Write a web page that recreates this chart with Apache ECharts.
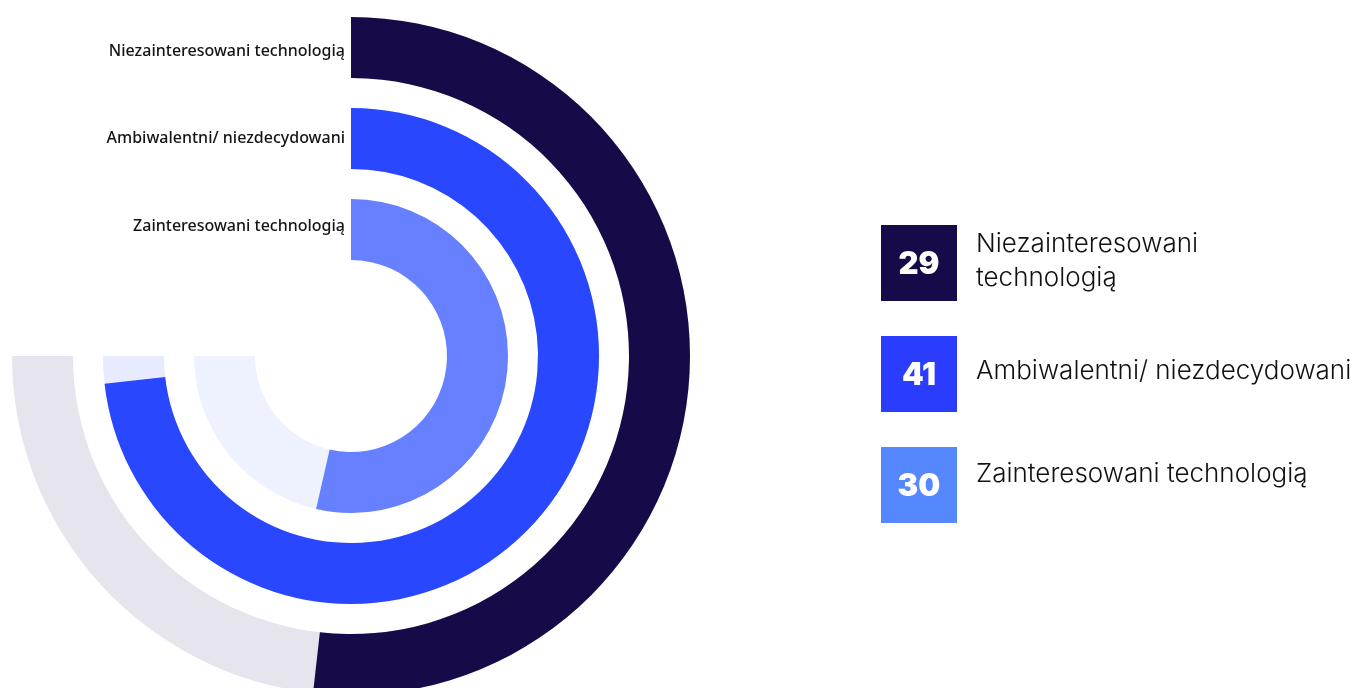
<!DOCTYPE html>
<html>
<head>
<meta charset="utf-8">
<script src="https://cdn.jsdelivr.net/npm/echarts@6/dist/echarts.min.js"></script>
<style>
  html, body { margin: 0; padding: 0; background: #ffffff; }
  #chart { width: 1357px; height: 688px; }
</style>
</head>
<body>
<div id="chart"></div>
<script>
// Groups, listed from the inner ring outwards
const categories = ['Zainteresowani technologią', 'Ambiwalentni/ niezdecydowani', 'Niezainteresowani technologią'];
const values = [30, 41, 29];
// Full track length of each ring (three quarters of the circle)
const trackMax = 42;

// Legend rows, top to bottom
const legendLabels = ['Niezainteresowani\ntechnologią', 'Ambiwalentni/ niezdecydowani', 'Zainteresowani technologią'];
const legendValues = [29, 41, 30];

const barColors = ['#6680ff', '#2847ff', '#170a48'];
const trackColors = ['#eef2ff', '#e8ebff', '#e6e5ed'];
const legendColors = ['#170a48', '#2a3dff', '#5588ff'];

const chart = echarts.init(document.getElementById('chart'), null, { renderer: 'canvas' });

// Legend: value tile + caption for each group
const legendTop = [225, 336, 447];
const legendTextY = [261, 371, 474];
const graphic = [];
legendValues.forEach((v, i) => {
  graphic.push({
    type: 'rect',
    left: 881, top: legendTop[i],
    shape: { width: 76, height: 76 },
    style: { fill: legendColors[i] }
  });
  graphic.push({
    type: 'text',
    x: 919, y: legendTop[i] + 40,
    style: {
      text: String(v),
      fill: '#ffffff',
      font: '900 31px Inter',
      align: 'center',
      verticalAlign: 'middle'
    }
  });
  graphic.push({
    type: 'text',
    x: 976, y: legendTextY[i],
    style: {
      text: legendLabels[i],
      fill: '#111111',
      font: '300 26px Inter',
      lineHeight: 34,
      align: 'left',
      verticalAlign: 'middle'
    }
  });
});

// Two identical polar grids: one carries the tracks, the other the values,
// so each ring gets the full bar width on its own band.
const polarBox = { center: [351, 356], radius: [81, 354] };
const angleAxisBase = {
  type: 'value',
  min: 0,
  max: trackMax * 360 / 270,
  startAngle: 90,
  clockwise: true,
  show: false
};

// Ring captions sit slightly closer together than the rings themselves
const labelShift = ['inner', 'mid', 'outer'];
const labelFont = { color: '#141414', fontFamily: 'Noto Sans', fontWeight: 500, fontSize: 16 };

chart.setOption({
  backgroundColor: '#ffffff',
  animation: false,
  polar: [polarBox, polarBox],
  angleAxis: [
    Object.assign({ polarIndex: 0 }, angleAxisBase),
    Object.assign({ polarIndex: 1 }, angleAxisBase)
  ],
  radiusAxis: [
    {
      polarIndex: 0,
      type: 'category',
      data: categories,
      show: false
    },
    {
      polarIndex: 1,
      type: 'category',
      data: categories,
      axisLine: { show: false },
      axisTick: { show: false },
      splitLine: { show: false },
      axisLabel: {
        interval: 0,
        margin: 6,
        formatter: (val, idx) => '{' + labelShift[idx] + '|' + val + '}',
        rich: {
          inner: Object.assign({ padding: [0, 0, 7, 0] }, labelFont),
          mid: Object.assign({}, labelFont),
          outer: Object.assign({ padding: [8, 0, 0, 0] }, labelFont)
        }
      },
      z: 10
    }
  ],
  series: [
    {
      type: 'bar',
      coordinateSystem: 'polar',
      polarIndex: 0,
      barWidth: 61,
      silent: true,
      data: categories.map((c, i) => ({ value: trackMax, itemStyle: { color: trackColors[i] } }))
    },
    {
      type: 'bar',
      coordinateSystem: 'polar',
      polarIndex: 1,
      barWidth: 61,
      data: values.map((v, i) => ({ value: v, itemStyle: { color: barColors[i] } }))
    }
  ],
  graphic: graphic
});
</script>
</body>
</html>
